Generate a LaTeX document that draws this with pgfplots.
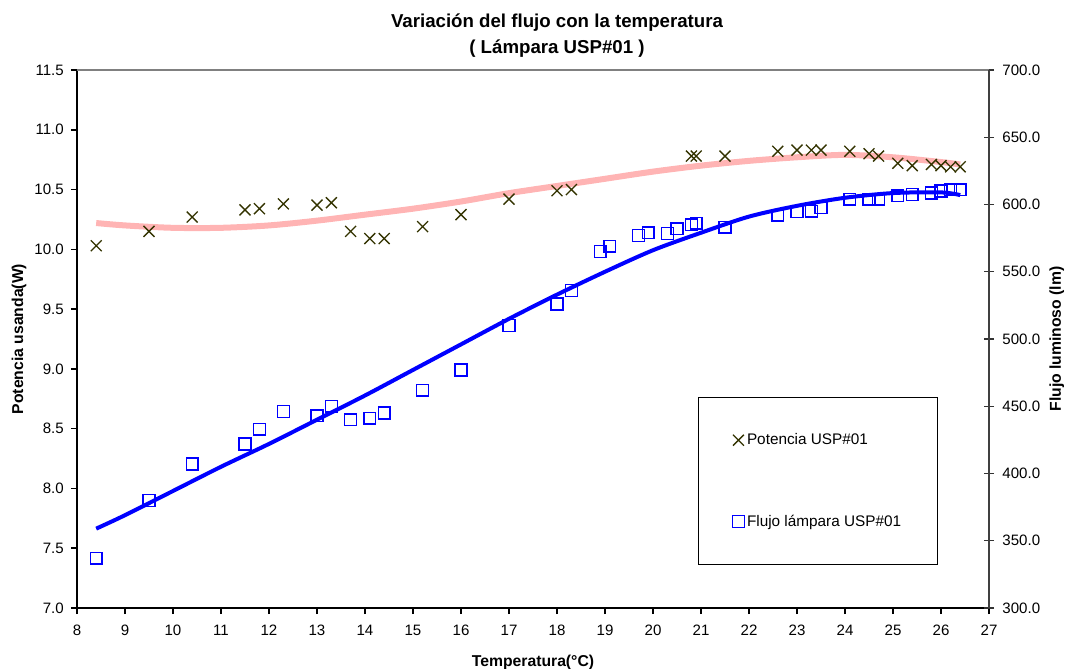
\documentclass[border=0pt]{standalone}
\usepackage{fontspec}
\setmainfont{Liberation Sans}
\usepackage{pgfplots}
\pgfplotsset{compat=1.18}

\definecolor{potcolor}{RGB}{51,51,0}
\definecolor{trendpink}{RGB}{255,180,180}
\definecolor{flujoblue}{RGB}{0,0,255}

% Measured power (W) against temperature
\pgfplotstableread{
x y
8.4 10.03
9.5 10.15
10.4 10.27
11.5 10.33
11.8 10.34
12.3 10.38
13.0 10.37
13.3 10.39
13.7 10.15
14.1 10.09
14.4 10.09
15.2 10.19
16.0 10.29
17.0 10.42
18.0 10.49
18.3 10.50
20.8 10.78
20.9 10.78
21.5 10.78
22.6 10.82
23.0 10.83
23.3 10.83
23.5 10.83
24.1 10.82
24.5 10.80
24.7 10.78
25.1 10.72
25.4 10.70
25.8 10.71
26.0 10.70
26.2 10.69
26.4 10.69
}\potencia

% Trend of the power
\pgfplotstableread{
x y
8.4 10.22
9 10.20
10 10.18
11 10.18
12 10.20
13 10.24
14 10.29
15 10.34
16 10.40
17 10.47
18 10.53
19 10.59
20 10.65
21 10.70
22 10.74
23 10.77
24 10.79
25 10.77
26 10.73
26.4 10.71
}\potenciatrend

% Measured luminous flux (lm) against temperature
\pgfplotstableread{
x y
8.4 337
9.5 380
10.4 407
11.5 422
11.8 433
12.3 446
13.0 443
13.3 450
13.7 440
14.1 441
14.4 445
15.2 462
16.0 477
17.0 510
18.0 526
18.3 536
18.9 565
19.1 569
19.7 577
19.9 579
20.3 578.5
20.5 582
20.8 585
20.9 586
21.5 583
22.6 592
23.0 594.5
23.3 595
23.5 597.5
24.1 604
24.5 604
24.7 604
25.1 606.5
25.4 607.5
25.8 608.5
26.0 610
26.2 611
26.4 611
}\flujo

% Trend of the flux
\pgfplotstableread{
x y
8.4 359
9 369
10 387
11 405
12 422
13 440
14 458
15 477
16 496
17 515
18 533
19 550
20 566
21 579
22 591
23 599
24 605
25 608.5
26 609
26.4 607
}\flujotrend

\begin{document}
\begin{tikzpicture}
\path[use as bounding box] (-57.75pt,-45pt) rectangle (742.5pt,456pt);

\pgfplotsset{
  common/.style={
    at={(0pt,0pt)}, anchor=south west,
    scale only axis, width=684pt, height=403.5pt,
    xmin=8, xmax=27,
    clip mode=individual,
    /pgf/number format/assume math mode=true,
    tick label style={font=\fontsize{11.3}{13}\selectfont},
    label style={font=\bfseries\fontsize{11.8}{14}\selectfont},
    yticklabel style={/pgf/number format/fixed,
      /pgf/number format/fixed zerofill,
      /pgf/number format/precision=1},
  },
}

\begin{axis}[
  common,
  ymin=7, ymax=11.5,
  axis x line*=bottom, axis y line*=left,
  axis line style={-, black, line width=1.7pt},
  xtick={8,...,27},
  ytick={7,7.5,8,8.5,9,9.5,10,10.5,11,11.5},
  tick align=outside, major tick length=4.5pt,
  tick style={black, line width=1.2pt},
  xticklabel style={yshift=-5pt},
  yticklabel style={xshift=-1.9pt},
  xlabel={Temperatura(°C)},
  ylabel={Potencia usanda(W)},
  xlabel style={at={(axis description cs:0.5,-0.1078)}, anchor=base},
  ylabel style={at={(axis description cs:-0.0592,0.5)}, anchor=base},
]
\addplot[trendpink, line width=4.5pt, smooth, no markers] table {\potenciatrend};
\addplot[only marks, mark=x, mark size=5.8pt,
  mark options={potcolor, line width=1pt}] table {\potencia};

\node[anchor=base, font=\bfseries\fontsize{14}{17}\selectfont]
  at (axis description cs:0.5263,1.0794) {Variación del flujo con la temperatura};
\node[anchor=base, font=\bfseries\fontsize{14}{17}\selectfont]
  at (axis description cs:0.5263,1.031) {( Lámpara USP\#01 )};
\end{axis}

\begin{axis}[
  common,
  ymin=300, ymax=700,
  axis x line*=top, axis y line*=right,
  x axis line style={-, gray, line width=1.5pt},
  y axis line style={-, black!75, line width=1.5pt},
  xtick=\empty,
  ytick={300,350,...,700},
  tick align=center, major tick length=7.5pt,
  tick style={black!80, line width=1.1pt},
  yticklabel style={xshift=2.8pt},
  ylabel={Flujo luminoso (lm)},
  ylabel style={at={(axis description cs:1.0789,0.5)}, anchor=base},
  legend style={at={(axis description cs:0.681,0.392)}, anchor=north west,
    draw=black, line width=0.8pt, fill=white,
    inner xsep=25.5pt, inner ysep=25pt, row sep=47pt,
    font=\fontsize{11.5}{13.8}\selectfont},
  legend cell align=left,
  legend image code/.code={\draw[mark repeat=2, mark phase=2, #1]
    plot coordinates {(0pt,0pt) (5pt,0pt) (10pt,0pt)};},
]
\addplot[flujoblue, line width=3pt, smooth, no markers, forget plot] table {\flujotrend};
\addlegendimage{only marks, mark=x, mark size=5.8pt, mark options={potcolor, line width=1pt}}
\addlegendentry{Potencia USP\#01}
\addplot[only marks, mark=square, mark size=4.4pt,
  mark options={flujoblue, line width=1.1pt}] table {\flujo};
\addlegendentry{Flujo lámpara USP\#01}
\end{axis}
\end{tikzpicture}
\end{document}
